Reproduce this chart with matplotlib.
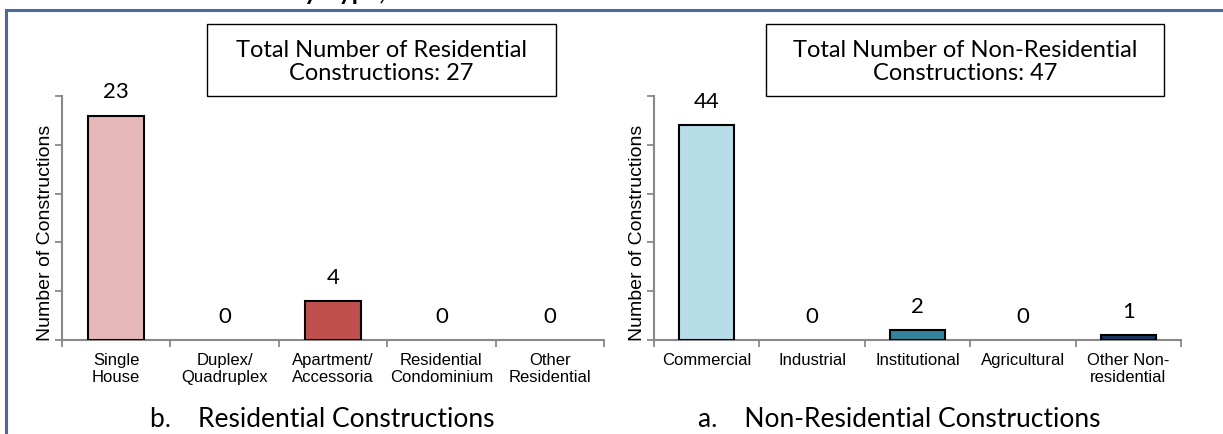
import matplotlib.pyplot as plt
from matplotlib.patches import Rectangle
from matplotlib.ticker import FixedLocator

# data
res_categories = ['Single\nHouse', 'Duplex/\nQuadruplex', 'Apartment/\nAccessoria',
                  'Residential\nCondominium', 'Other\nResidential']
res_values = [23, 0, 4, 0, 0]
res_colors = ['#e6b9b8', '#d99694', '#c0504d', '#953735', '#632523']
res_total = 27

nonres_categories = ['Commercial', 'Industrial', 'Institutional', 'Agricultural',
                     'Other Non-\nresidential']
nonres_values = [44, 0, 2, 0, 1]
nonres_colors = ['#b7dee8', '#92cddc', '#31849b', '#215968', '#17375e']
nonres_total = 47

W, H = 1223, 435
CAL = ['Lato', 'DejaVu Sans']
ARIAL = ['Liberation Sans', 'DejaVu Sans']
AXIS_GRAY = '#898989'


def fx(px):
    return px / W


def fy(py):
    return 1 - py / H


def draw_panel(fig, rect, cats, vals, colors, ymax, step):
    ax = fig.add_axes(rect)
    x = range(len(cats))
    lws = [1.5 if v > 0 else 0 for v in vals]
    ax.bar(x, vals, width=0.52, color=colors, edgecolor='black', linewidth=lws, zorder=3)
    for i, v in enumerate(vals):
        ax.annotate(str(v), (i, v), xytext=(0, 13), textcoords='offset points',
                    ha='center', va='baseline', fontsize=16, family=CAL)
    ax.set_xlim(-0.5, len(cats) - 0.5)
    ax.set_ylim(0, ymax)
    ax.set_yticks(range(0, ymax + 1, step))
    ax.set_yticklabels([])
    ax.set_xticks(list(x))
    ax.set_xticklabels(cats, fontsize=12, family=ARIAL, linespacing=1.15)
    ax.xaxis.set_minor_locator(FixedLocator([i - 0.5 for i in range(len(cats) + 1)]))
    ax.tick_params(axis='x', which='major', length=0, pad=9)
    ax.tick_params(axis='x', which='minor', length=5, color=AXIS_GRAY, width=1.3)
    ax.tick_params(axis='y', length=5, color=AXIS_GRAY, width=1.3)
    for s in ['top', 'right']:
        ax.spines[s].set_visible(False)
    for s in ['left', 'bottom']:
        ax.spines[s].set_color(AXIS_GRAY)
        ax.spines[s].set_linewidth(1.5)
    ax.set_ylabel('Number of Constructions', fontsize=14, family=ARIAL, loc='bottom', labelpad=-3)
    return ax


fig = plt.figure(figsize=(W / 100, H / 100), dpi=100)

# outer frame and heading (cut off at the top in the source)
fig.patches.append(Rectangle((fx(6), fy(440)), fx(1230), fy(11) - fy(440), transform=fig.transFigure,
                             fill=False, edgecolor='#4a6a99', linewidth=2.2))
fig.text(fx(290), fy(0.5), 'by Type, Central Luzon: March 2016 vs. March 2015',
         ha='left', va='baseline', fontsize=18, fontweight='bold', family=CAL)

ax1 = draw_panel(fig, [fx(62), fy(341), fx(542), fy(97) - fy(341)],
                 res_categories, res_values, res_colors, 25, 5)
ax2 = draw_panel(fig, [fx(654), fy(341), fx(527), fy(97) - fy(341)],
                 nonres_categories, nonres_values, nonres_colors, 50, 10)

# total boxes
for (x0, x1), label in [((207, 556), f'Total Number of Residential\nConstructions: {res_total}'),
                        ((766, 1164), f'Total Number of Non-Residential\nConstructions: {nonres_total}')]:
    fig.patches.append(Rectangle((fx(x0), fy(97)), fx(x1 - x0), fy(25) - fy(97),
                                 transform=fig.transFigure, facecolor='white',
                                 edgecolor='black', linewidth=1, zorder=5))
    fig.text(fx((x0 + x1) / 2), fy(62), label, ha='center', va='center', fontsize=17,
             family=CAL, linespacing=1.15, zorder=6)

# panel captions
fig.text(fx(150), fy(427), 'b.    Residential Constructions', ha='left', va='baseline',
         fontsize=19, family=CAL)
fig.text(fx(698), fy(427), 'a.    Non-Residential Constructions', ha='left', va='baseline',
         fontsize=19, family=CAL)

plt.savefig('out.png', dpi=100)
plt.close()
